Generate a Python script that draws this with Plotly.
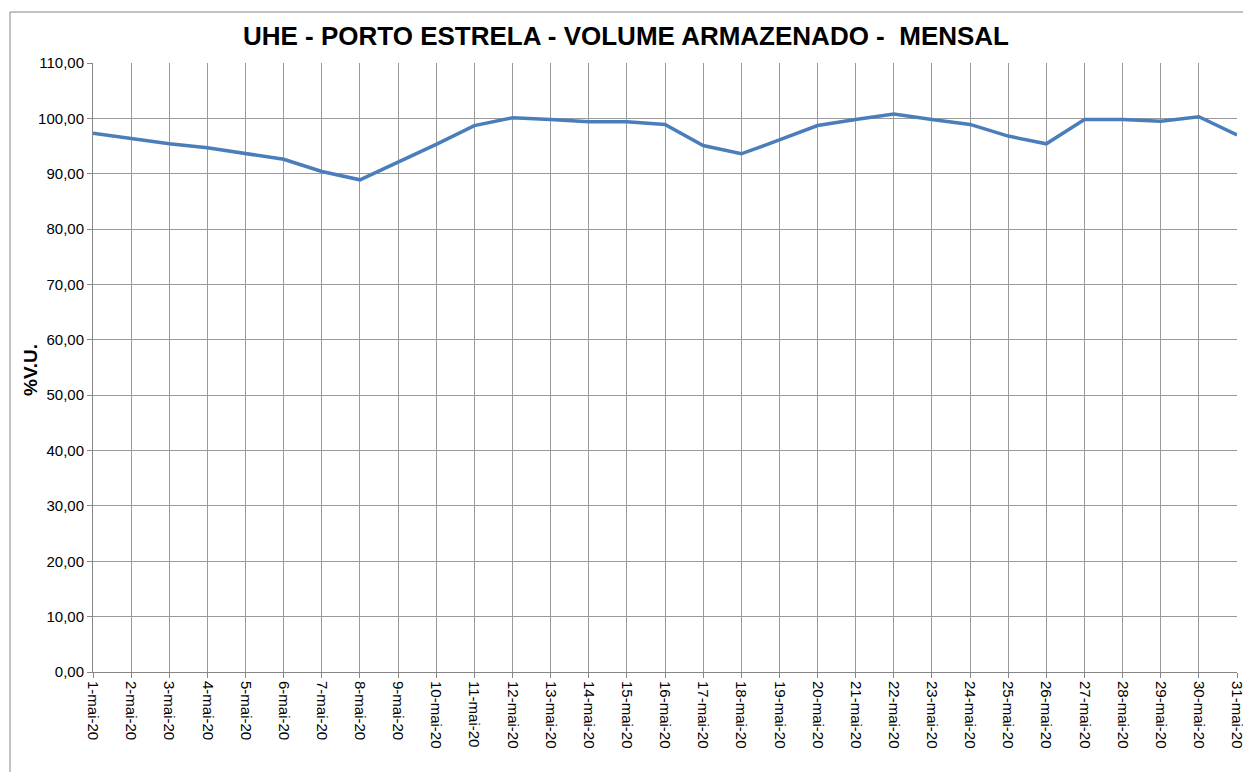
import plotly.graph_objects as go

datas = [f"{d}-mai-20" for d in range(1, 32)]
volume = [97.3, 96.3, 95.4, 94.7, 93.6, 92.6, 90.4, 88.9, 92.1, 95.3,
          98.7, 100.1, 99.8, 99.4, 99.4, 98.9, 95.1, 93.6, 96.1, 98.7,
          99.8, 100.8, 99.8, 98.9, 96.8, 95.4, 99.8, 99.8, 99.5, 100.3,
          97.0]
y_ticks = list(range(0, 111, 10))

W, H = 1243, 772
L, R, T, B = 93, 6, 63, 100
pw, ph = W - L - R, H - T - B

fig = go.Figure()
fig.add_trace(go.Scatter(
    x=datas, y=volume, mode="lines",
    line=dict(color="#4a7ebb", width=3.5),
    showlegend=False, hoverinfo="x+y",
))

def px_to_paper_x(px):
    return (px - L) / pw

def px_to_paper_y(py):
    return 1 - (py - T) / ph

fig.update_layout(
    width=W, height=H,
    margin=dict(l=L, r=R, t=T, b=B),
    paper_bgcolor="white", plot_bgcolor="white",
    separators=",.",
    font=dict(family="Liberation Sans", color="#000000"),
    title=dict(
        text="<b>UHE - PORTO ESTRELA - VOLUME ARMAZENADO -  MENSAL</b>",
        x=626 / W, xanchor="center", y=1 - 36 / H, yanchor="middle",
        font=dict(size=26, family="Liberation Sans"),
    ),
    xaxis=dict(
        type="category", range=[0, 30], automargin=False,
        showgrid=True, gridcolor="#9a9a9a", gridwidth=1,
        showline=True, linecolor="#868686", linewidth=1,
        ticks="outside", ticklen=5, tickcolor="#868686",
        tickangle=90, tickfont=dict(size=15, family="Liberation Sans"),
    ),
    yaxis=dict(
        range=[0, 110], tickvals=y_ticks, tickformat=".2f", automargin=False,
        showgrid=True, gridcolor="#9a9a9a", gridwidth=1,
        showline=True, linecolor="#868686", linewidth=1,
        ticks="outside", ticklen=5, tickcolor="#868686",
        tickfont=dict(size=15, family="Liberation Sans"),
        zeroline=False,
    ),
    annotations=[dict(
        text="<b>%V.U.</b>", xref="paper", yref="paper",
        x=px_to_paper_x(30), y=px_to_paper_y(370),
        xanchor="center", yanchor="middle", textangle=-90,
        showarrow=False, font=dict(size=19, family="Liberation Sans"),
    )],
    shapes=[dict(
        type="rect", xref="paper", yref="paper",
        x0=px_to_paper_x(10), x1=px_to_paper_x(1260),
        y0=px_to_paper_y(12), y1=px_to_paper_y(790),
        line=dict(color="#868686", width=1), fillcolor="rgba(0,0,0,0)",
        layer="below",
    )],
)

fig.write_html("out.html", post_script="document.body.style.margin='0';",
               config={"displayModeBar": False})
